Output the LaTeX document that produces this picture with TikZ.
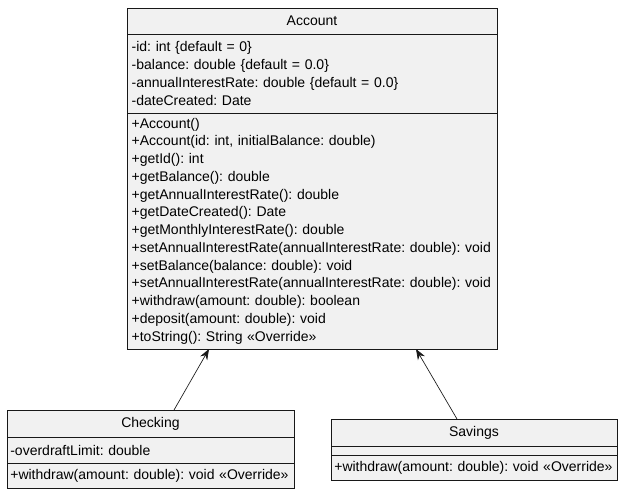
\documentclass[tikz,border=0pt]{standalone}
\usepackage{fontspec}
\setmainfont{Liberation Sans}
\usetikzlibrary{arrows.meta,positioning,calc}
\definecolor{umlfill}{HTML}{F1F1F1}
\definecolor{umlline}{HTML}{181818}
\frenchspacing
\hyphenpenalty=10000
\exhyphenpenalty=10000
\tikzset{
  part/.style={draw=umlline,fill=umlfill,line width=.5pt,outer sep=0pt,
               inner xsep=3.5pt,inner ysep=0pt,
               font=\fontsize{10.5}{13.3}\selectfont,text width=#1},
  head/.style={part=#1,align=center},
  body/.style={part=#1,align=left},
  narrow/.style={inner xsep=2.5pt},
  inherit/.style={-{Stealth[length=8pt,width=6pt]},draw=umlline,line width=.5pt},
}
\begin{document}
\begin{tikzpicture}[x=0.75pt,y=-0.75pt]
  \useasboundingbox (0,0) rectangle (623,494);
  % Account
  \node[head=270.5pt,minimum height=19.5pt,anchor=north] (acc) at (312,8) {Account};
  \node[body=270.5pt,minimum height=59.25pt,below=0pt of acc] (acc-attr)
    {-id: int \{default = 0\}\\
     -balance: double \{default = 0.0\}\\
     -annualInterestRate: double \{default = 0.0\}\\
     -dateCreated: Date};
  \node[body=270.5pt,minimum height=177pt,below=0pt of acc-attr] (acc-ops)
    {+Account()\\
     +Account(id: int, initialBalance: double)\\
     +getId(): int\\
     +getBalance(): double\\
     +getAnnualInterestRate(): double\\
     +getDateCreated(): Date\\
     +getMonthlyInterestRate(): double\\
     +setAnnualInterestRate(annualInterestRate: double): void\\
     +setBalance(balance: double): void\\
     +setAnnualInterestRate(annualInterestRate: double): void\\
     +withdraw(amount: double): boolean\\
     +deposit(amount: double): void\\
     +toString(): String «Override»};
  % Checking
  \node[head=210.25pt,narrow,minimum height=20.25pt,anchor=north] (chk) at (150.5,410) {Checking};
  \node[body=210.25pt,narrow,minimum height=19.5pt,below=0pt of chk] (chk-attr)
    {-overdraftLimit: double};
  \node[body=210.25pt,narrow,minimum height=18.75pt,below=0pt of chk-attr] (chk-ops)
    {+withdraw(amount: double): void «Override»};
  % Savings
  \node[head=209.5pt,narrow,minimum height=20.25pt,anchor=north] (sav) at (474,419) {Savings};
  \node[body=209.5pt,narrow,minimum height=6.75pt,below=0pt of sav] (sav-attr) {};
  \node[body=209.5pt,narrow,minimum height=18.75pt,below=0pt of sav-attr] (sav-ops)
    {+withdraw(amount: double): void «Override»};
  \draw[inherit] ($(chk.north)+(23.5,0)$) -- ($(acc-ops.south)+(-103,0)$);
  \draw[inherit] ($(sav.north)+(-17,0)$) -- ($(acc-ops.south)+(104,0)$);
\end{tikzpicture}
\end{document}
